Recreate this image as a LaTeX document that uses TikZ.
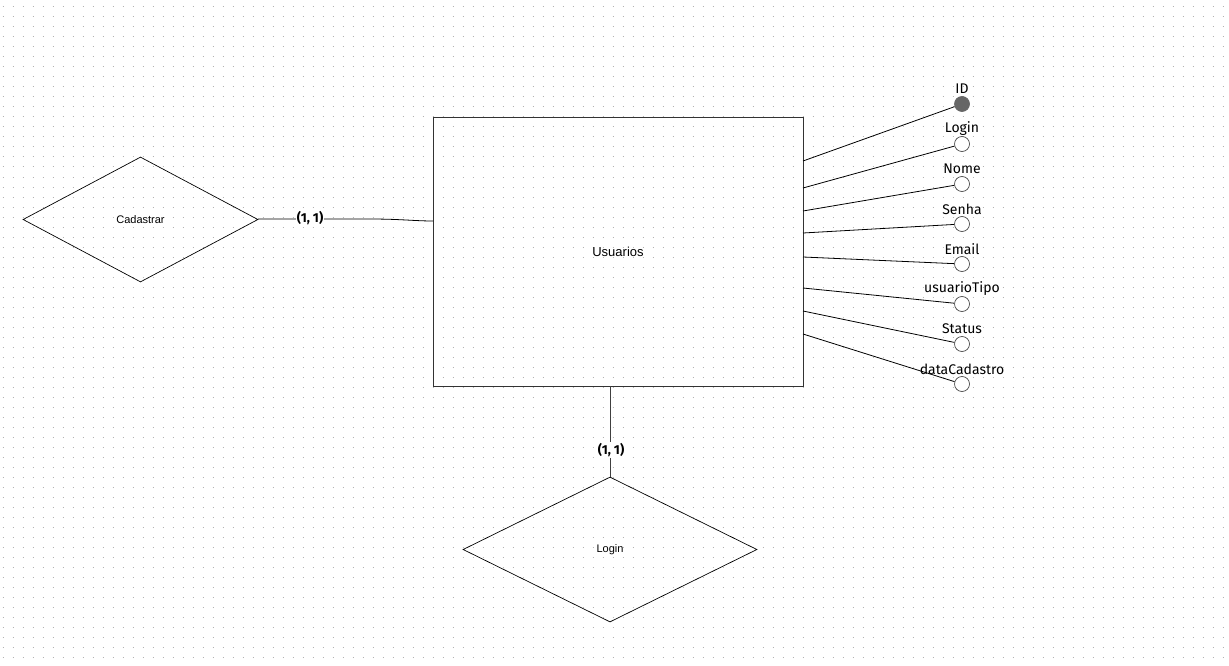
\documentclass[tikz,border=0pt]{standalone}
\usepackage{fontspec}
\setmainfont{Liberation Sans}
\newfontfamily\attrfont{Fira Sans}
\usetikzlibrary{shapes.geometric}
\begin{document}
\begin{tikzpicture}[x=1pt,y=-1pt,
  ent/.style={draw=black!80,line width=0.9pt,fill=none,inner sep=0pt},
  attr/.style={circle,draw=black!70,line width=0.7pt,fill=white,minimum size=15pt,inner sep=0pt},
  key/.style={attr,fill=black!60,draw=black!60},
  alab/.style={font=\attrfont\fontsize{14}{16}\selectfont,inner sep=0pt},
  card/.style={font=\attrfont\bfseries\fontsize{13}{15}\selectfont,fill=white,inner sep=1pt},
  conn/.style={draw=black,line width=0.8pt}]
\useasboundingbox (0,0) rectangle (1229,666);
\fill[white] (0,0) rectangle (1229,666);
% dot grid
\foreach \yy in {7,17,...,657}
  \draw[black!30,line width=1pt,dash pattern=on 1pt off 9pt] (2.5,\yy) -- (1229,\yy);
% entity
\node[ent,minimum width=370pt,minimum height=269pt] (usu) at (618,251.5) {};
\node[font=\fontsize{13}{15}\selectfont] (usulab) at (618,252) {Usuarios};
% relationships
\node[draw=black,line width=0.7pt,shape=diamond,aspect=1.88,minimum width=235pt,minimum height=125pt,inner sep=0pt] (cad) at (140.5,219.5) {};
\node[font=\fontsize{11}{13}\selectfont] (cadlab) at (140.5,219.5) {Cadastrar};
\node[draw=black,line width=0.7pt,shape=diamond,aspect=2.03,minimum width=294pt,minimum height=145pt,inner sep=0pt] (log) at (610,549.5) {};
\node[font=\fontsize{11}{13}\selectfont] (loglab) at (610,549.5) {Login};
% connectors
\coordinate (cadE) at (258,219);
\coordinate (usuW) at (433,221);
\draw[conn] (cadE) -- (370,219) .. controls (400,219) and (415,221) .. (usuW);
\node[card] (c1) at (310,218) {(1, 1)};
\coordinate (usuS) at (610.5,386);
\coordinate (logN) at (610.5,477);
\draw[conn,black!75,line width=1pt] (usuS) -- (logN);
\node[card] (c2) at (611,450) {(1, 1)};
% attributes
\foreach \n/\lab/\cy/\sy [count=\i] in {a1/ID/104/161, a2/Login/144/188, a3/Nome/184/211, a4/Senha/224/233, a5/Email/264/257, a6/usuarioTipo/304/288, a7/Status/344/311, a8/dataCadastro/384/334}{
  \coordinate (s\n) at (803,\sy);
  \ifnum\i=1
    \node[key] (\n) at (962,\cy) {};
  \else
    \node[attr] (\n) at (962,\cy) {};
  \fi
  \draw[conn] (s\n) -- (\n);
  \node[alab] (l\n) at (962,\cy-15) {\lab};
}
\end{tikzpicture}
\end{document}
